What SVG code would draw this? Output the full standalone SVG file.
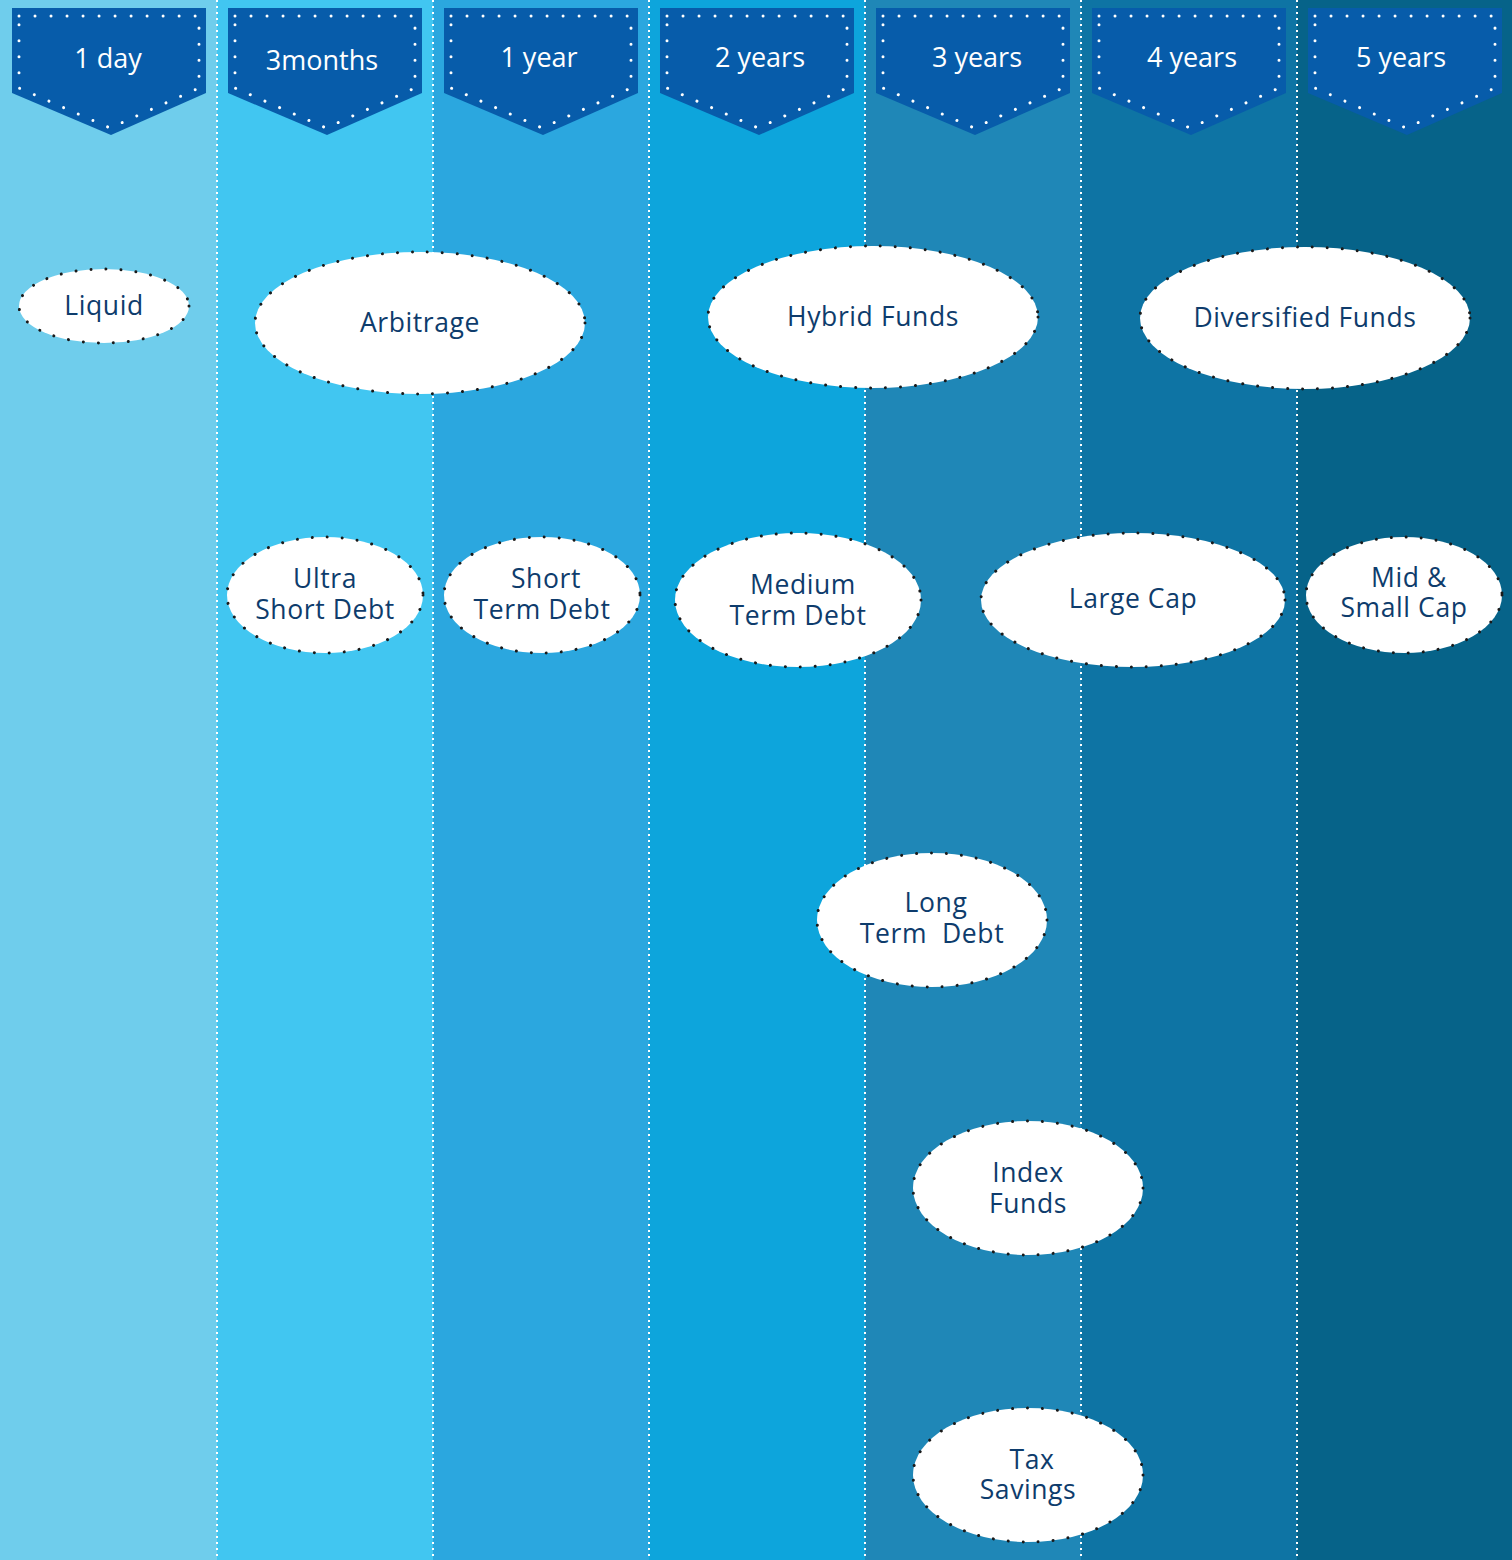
<svg xmlns="http://www.w3.org/2000/svg" width="1512" height="1560" viewBox="0 0 1512 1560">
<defs>
<style>
.div{stroke:#ffffff;stroke-width:2;stroke-dasharray:2 4;fill:none}
.ban{fill:#075CAA}
.bdot{fill:none;stroke:#ffffff;stroke-width:3;stroke-dasharray:0.01 16;stroke-linecap:round;stroke-linejoin:round}
.btxt{fill:#ffffff;font-family:"Open Sans","DejaVu Sans",sans-serif;font-size:27px;text-anchor:middle}
.el{fill:#ffffff;stroke:#1a1a1a;stroke-width:3;stroke-dasharray:0.01 15;stroke-linecap:round}
.t{fill:#0E3C6C;font-family:"Open Sans","DejaVu Sans",sans-serif;font-size:26.5px;letter-spacing:0.6px;text-anchor:middle;white-space:pre}
</style>
</defs>
<g id="columns">
<rect x="0" y="0" width="217" height="1560" fill="#6FCDEC"/>
<rect x="217" y="0" width="216" height="1560" fill="#41C6F1"/>
<rect x="433" y="0" width="216" height="1560" fill="#2BA7DF"/>
<rect x="649" y="0" width="216" height="1560" fill="#0DA5DC"/>
<rect x="865" y="0" width="216" height="1560" fill="#1F87B7"/>
<rect x="1081" y="0" width="216" height="1560" fill="#0E74A4"/>
<rect x="1297" y="0" width="215" height="1560" fill="#066389"/>
</g>
<g id="dividers">
<line class="div" x1="217" y1="0" x2="217" y2="1560"/>
<line class="div" x1="433" y1="0" x2="433" y2="1560"/>
<line class="div" x1="649" y1="0" x2="649" y2="1560"/>
<line class="div" x1="865" y1="0" x2="865" y2="1560"/>
<line class="div" x1="1081" y1="0" x2="1081" y2="1560"/>
<line class="div" x1="1297" y1="0" x2="1297" y2="1560"/>
</g>
<g id="banner-1day">
<path class="ban" d="M12,8 H206 V93 L111,135 L12,93 Z"/>
<path class="bdot" d="M19,16 H199 V88 L110,128 L19,88 Z"/>
<text class="btxt" x="108" y="68">1 day</text>
</g>
<g id="banner-3months">
<path class="ban" d="M228,8 H422 V93 L327,135 L228,93 Z"/>
<path class="bdot" d="M235,16 H415 V88 L326,128 L235,88 Z"/>
<text class="btxt" x="322" y="70">3months</text>
</g>
<g id="banner-1year">
<path class="ban" d="M444,8 H638 V93 L543,135 L444,93 Z"/>
<path class="bdot" d="M451,16 H631 V88 L542,128 L451,88 Z"/>
<text class="btxt" x="539" y="67">1 year</text>
</g>
<g id="banner-2years">
<path class="ban" d="M660,8 H854 V93 L759,135 L660,93 Z"/>
<path class="bdot" d="M667,16 H847 V88 L758,128 L667,88 Z"/>
<text class="btxt" x="760" y="67">2 years</text>
</g>
<g id="banner-3years">
<path class="ban" d="M876,8 H1070 V93 L975,135 L876,93 Z"/>
<path class="bdot" d="M883,16 H1063 V88 L974,128 L883,88 Z"/>
<text class="btxt" x="977" y="67">3 years</text>
</g>
<g id="banner-4years">
<path class="ban" d="M1092,8 H1286 V93 L1191,135 L1092,93 Z"/>
<path class="bdot" d="M1099,16 H1279 V88 L1190,128 L1099,88 Z"/>
<text class="btxt" x="1192" y="67">4 years</text>
</g>
<g id="banner-5years">
<path class="ban" d="M1308,8 H1502 V93 L1407,135 L1308,93 Z"/>
<path class="bdot" d="M1315,16 H1495 V88 L1406,128 L1315,88 Z"/>
<text class="btxt" x="1401" y="67">5 years</text>
</g>
<g id="connectors"></g>
<g id="liquid">
<ellipse class="el" cx="104" cy="306" rx="85" ry="37"/>
<text class="t" x="104" y="315">Liquid</text>
</g>
<g id="arbitrage">
<ellipse class="el" cx="420" cy="323" rx="165" ry="71"/>
<text class="t" x="420" y="332">Arbitrage</text>
</g>
<g id="hybrid-funds">
<ellipse class="el" cx="873" cy="317" rx="165" ry="71"/>
<text class="t" x="873" y="326">Hybrid Funds</text>
</g>
<g id="diversified-funds">
<ellipse class="el" cx="1305" cy="318" rx="165" ry="71"/>
<text class="t" x="1305" y="327">Diversified Funds</text>
</g>
<g id="ultra-short-debt">
<ellipse class="el" cx="325" cy="595" rx="98" ry="58"/>
<text class="t" x="325" y="588">Ultra</text>
<text class="t" x="325" y="619">Short Debt</text>
</g>
<g id="short-term-debt">
<ellipse class="el" cx="542" cy="595" rx="98" ry="58"/>
<text class="t" x="546" y="588">Short</text>
<text class="t" x="542" y="619">Term Debt</text>
</g>
<g id="medium-term-debt">
<ellipse class="el" cx="798" cy="600" rx="123" ry="67"/>
<text class="t" x="803" y="594">Medium</text>
<text class="t" x="798" y="625">Term Debt</text>
</g>
<g id="large-cap">
<ellipse class="el" cx="1133" cy="600" rx="152" ry="67"/>
<text class="t" x="1133" y="608">Large Cap</text>
</g>
<g id="mid-small-cap">
<ellipse class="el" cx="1404" cy="595" rx="98" ry="58"/>
<text class="t" x="1409" y="587">Mid &amp;</text>
<text class="t" x="1404" y="617">Small Cap</text>
</g>
<g id="long-term-debt">
<ellipse class="el" cx="932" cy="920" rx="115" ry="67"/>
<text class="t" x="936" y="912">Long</text>
<text class="t" x="932" y="943" xml:space="preserve">Term  Debt</text>
</g>
<g id="index-funds">
<ellipse class="el" cx="1028" cy="1188" rx="115" ry="67"/>
<text class="t" x="1028" y="1182">Index</text>
<text class="t" x="1028" y="1213">Funds</text>
</g>
<g id="tax-savings">
<ellipse class="el" cx="1028" cy="1475" rx="115" ry="67"/>
<text class="t" x="1032" y="1469">Tax</text>
<text class="t" x="1028" y="1499">Savings</text>
</g>
</svg>
